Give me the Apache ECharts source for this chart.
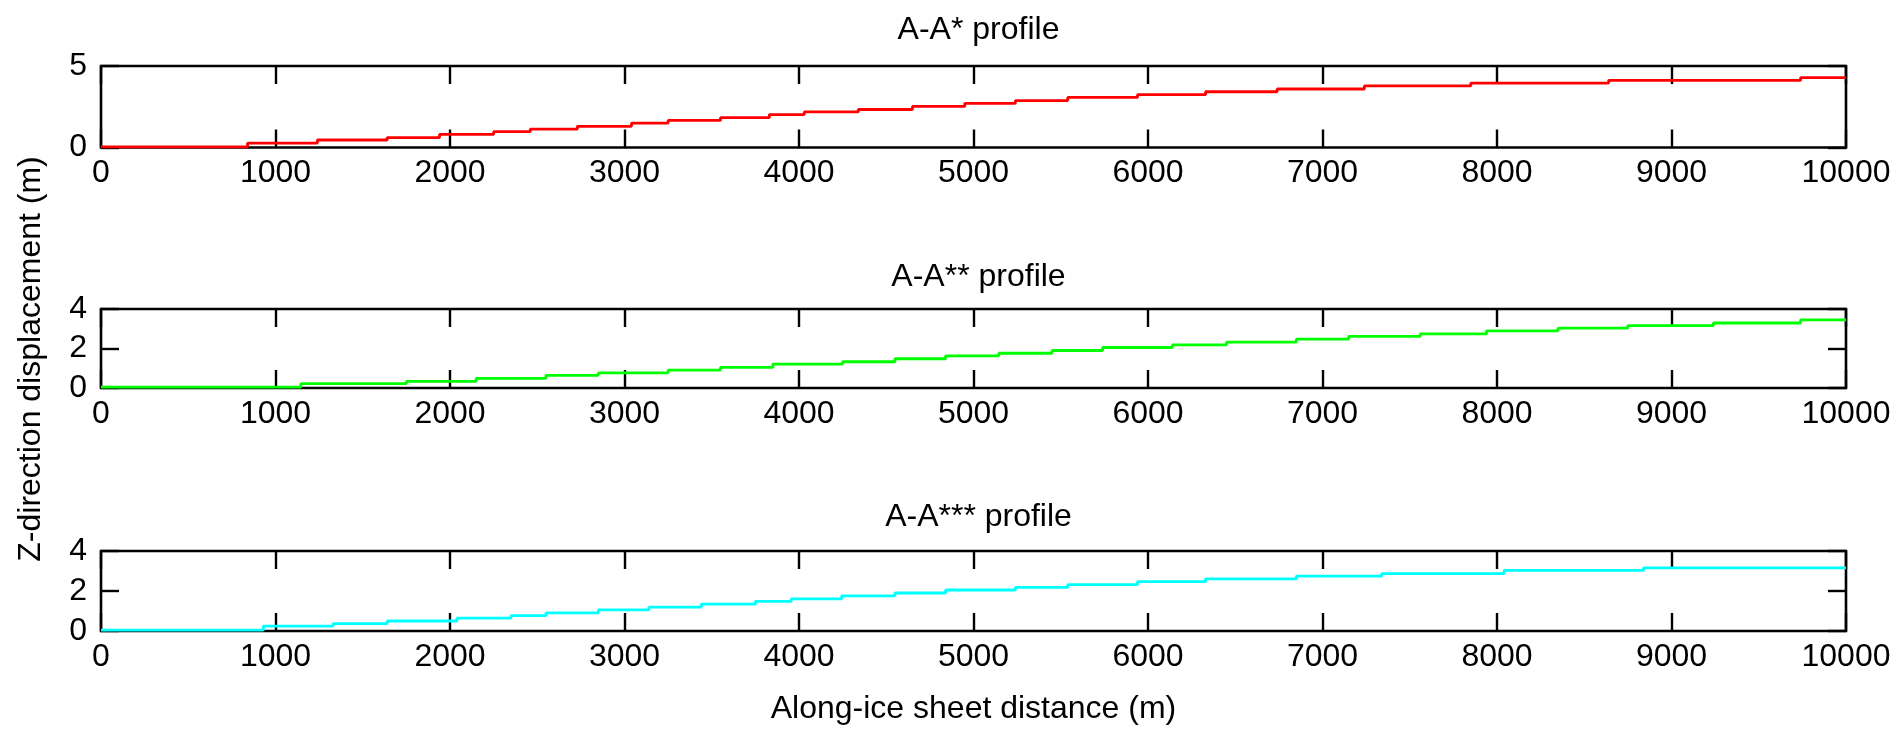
<!DOCTYPE html>
<html>
<head>
<meta charset="utf-8">
<script src="https://cdn.jsdelivr.net/npm/echarts@6/dist/echarts.min.js"></script>
<style>
html,body{margin:0;padding:0;background:#fff;}
#chart{width:1896px;height:731px;}
</style>
</head>
<body>
<div id="chart"></div>
<script>
// ---- data (step-wise traces) ----
const titles = ['A-A* profile', 'A-A** profile', 'A-A*** profile'];
const xTicks = [0, 1000, 2000, 3000, 4000, 5000, 6000, 7000, 8000, 9000, 10000];
const yMaxes = [5, 4, 4];
const yIntervals = [5, 2, 2];
const lineColors = ['#ff0000', '#00ff00', '#00ffff'];

const distA1 = [0, 840, 1240, 1640, 1940, 2250, 2460, 2730, 3040, 3250, 3550, 3830, 4030, 4340, 4650, 4950, 5240, 5540, 5940, 6330, 6740, 7240, 7850, 8640, 9740, 10000];
const dispA1 = [0.04, 0.27, 0.46, 0.61, 0.80, 0.97, 1.13, 1.30, 1.49, 1.66, 1.83, 2.02, 2.18, 2.33, 2.52, 2.71, 2.88, 3.07, 3.24, 3.42, 3.59, 3.78, 3.95, 4.12, 4.29, 4.29];

const distA2 = [0, 1145, 1750, 2150, 2550, 2850, 3250, 3550, 3850, 4250, 4550, 4840, 5145, 5450, 5740, 6140, 6450, 6850, 7150, 7560, 7940, 8350, 8750, 9240, 9740, 10000];
const dispA2 = [0.04, 0.22, 0.34, 0.49, 0.64, 0.77, 0.91, 1.04, 1.21, 1.33, 1.48, 1.63, 1.76, 1.90, 2.05, 2.18, 2.32, 2.47, 2.61, 2.74, 2.89, 3.03, 3.16, 3.29, 3.45, 3.45];

const distA3 = [0, 930, 1330, 1640, 2040, 2350, 2550, 2850, 3140, 3440, 3750, 3955, 4245, 4550, 4840, 5240, 5540, 5940, 6330, 6850, 7340, 8040, 8840, 10000];
const dispA3 = [0.04, 0.24, 0.37, 0.50, 0.64, 0.77, 0.91, 1.06, 1.19, 1.34, 1.48, 1.61, 1.76, 1.90, 2.05, 2.18, 2.32, 2.47, 2.61, 2.74, 2.87, 3.03, 3.16, 3.16];

const xAxisName = 'Along-ice sheet distance (m)';
const yAxisName = 'Z-direction displacement (m)';

// ---- layout ----
const FONT = "'Liberation Sans', Arial, sans-serif";
const FS = 32;
const gridLeft = 101, gridRight = 50;
const gridTops = [66, 309, 551];
const gridHeights = [81.5, 79, 80];
const titleTops = [9, 256, 496];

const dists = [distA1, distA2, distA3];
const disps = [dispA1, dispA2, dispA3];

const chart = echarts.init(document.getElementById('chart'), null, {renderer: 'canvas'});

function tickStyle() {
  return {show: true, inside: true, length: 18, lineStyle: {color: '#000', width: 2.4}};
}
function hiddenLine() {
  return {show: false, onZero: false};
}

const grids = [], xAxes = [], yAxes = [], series = [], titleArr = [];
for (let i = 0; i < 3; i++) {
  grids.push({left: gridLeft, right: gridRight, top: gridTops[i], height: gridHeights[i],
    show: true, borderColor: '#000', borderWidth: 2.6, backgroundColor: 'transparent'});
  xAxes.push({
    type: 'value', gridIndex: i, min: xTicks[0], max: xTicks[xTicks.length - 1], interval: 1000,
    position: 'bottom',
    axisLine: hiddenLine(), splitLine: {show: false}, axisTick: tickStyle(),
    axisLabel: {show: true, color: '#000', fontSize: FS, fontFamily: FONT, margin: 10,
      formatter: v => String(v)},
    name: i === 2 ? xAxisName : '',
    nameLocation: 'middle', nameGap: 62,
    nameTextStyle: {color: '#000', fontSize: FS, fontFamily: FONT}
  });
  xAxes.push({
    type: 'value', gridIndex: i, min: xTicks[0], max: xTicks[xTicks.length - 1], interval: 1000,
    position: 'top',
    axisLine: hiddenLine(), splitLine: {show: false}, axisTick: tickStyle(),
    axisLabel: {show: false}
  });
  yAxes.push({
    type: 'value', gridIndex: i, min: 0, max: yMaxes[i], interval: yIntervals[i],
    position: 'left',
    axisLine: hiddenLine(), splitLine: {show: false}, axisTick: tickStyle(),
    axisLabel: {show: true, color: '#000', fontSize: FS, fontFamily: FONT, margin: 14,
      formatter: v => String(v)}
  });
  yAxes.push({
    type: 'value', gridIndex: i, min: 0, max: yMaxes[i], interval: yIntervals[i],
    position: 'right',
    axisLine: hiddenLine(), splitLine: {show: false}, axisTick: tickStyle(),
    axisLabel: {show: false}
  });

  series.push({
    type: 'line', xAxisIndex: 2 * i, yAxisIndex: 2 * i, step: 'end',
    showSymbol: false, symbol: 'none', animation: false,
    data: dists[i].map((d, k) => [d, disps[i][k]]),
    lineStyle: {color: lineColors[i], width: 2.8},
    itemStyle: {color: lineColors[i]}
  });
  titleArr.push({
    text: titles[i], left: gridLeft + (1896 - gridLeft - gridRight) / 2, top: titleTops[i],
    textAlign: 'center',
    textStyle: {color: '#000', fontSize: FS, fontWeight: 'normal', fontFamily: FONT}
  });
}

chart.setOption({
  backgroundColor: '#fff',
  animation: false,
  title: titleArr,
  grid: grids,
  xAxis: xAxes,
  yAxis: yAxes,
  series: series,
  graphic: [{
    type: 'text', x: 31, y: 359, rotation: Math.PI / 2,
    style: {text: yAxisName, fill: '#000', font: FS + 'px ' + FONT,
      textAlign: 'center', textVerticalAlign: 'middle'}
  }]
});
</script>
</body>
</html>
